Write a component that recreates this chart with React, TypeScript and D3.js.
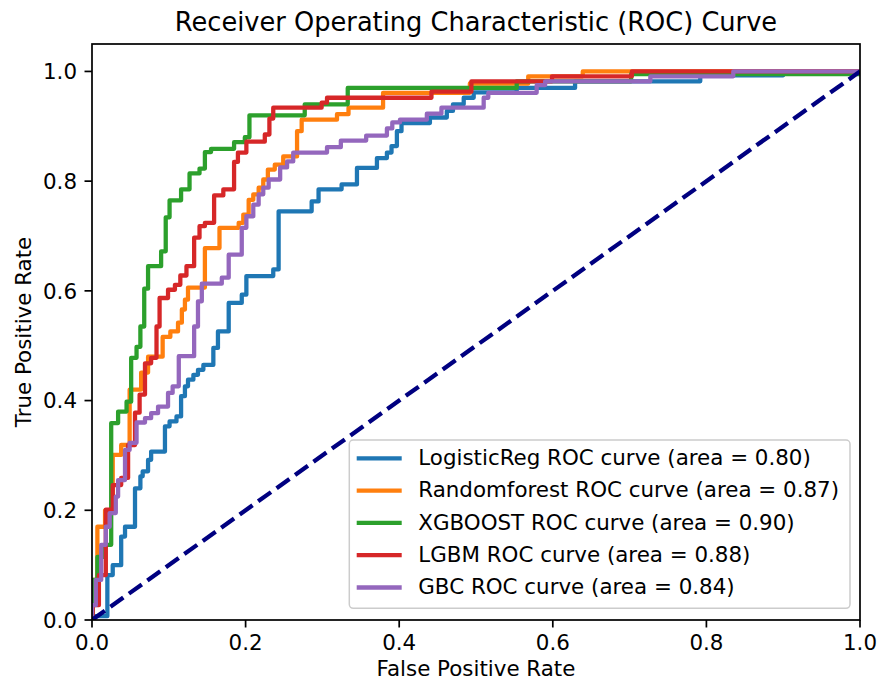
import React from "react";
import * as d3 from "d3";

// Figure geometry (pixels)
const WIDTH = 880;
const HEIGHT = 691;
const PLOT = { left: 92, right: 860, top: 44, bottom: 620 };
const PT = 2.14; // pixels per typographic point at this figure's resolution
const FONT = "DejaVu Sans, Liberation Sans, sans-serif";

const xTicks = [0, 0.2, 0.4, 0.6, 0.8, 1.0];
const yTicks = [0, 0.2, 0.4, 0.6, 0.8, 1.0];

const modelNames = ["LogisticReg", "Randomforest", "XGBOOST", "LGBM", "GBC"];
const modelAuc = [0.8, 0.87, 0.9, 0.88, 0.84];
const modelColors = ["#1f77b4", "#ff7f0e", "#2ca02c", "#d62728", "#9467bd"];

// ROC points [fpr, tpr]; each point is where a vertical rise ends and the next horizontal run begins
const rocLogisticReg: [number, number][] = [
  [0, 0], [0, 0.007], [0.02, 0.082], [0.027, 0.1], [0.038, 0.152], [0.043, 0.17],
  [0.056, 0.24], [0.063, 0.262], [0.066, 0.271], [0.073, 0.292], [0.077, 0.307],
  [0.095, 0.353], [0.101, 0.362], [0.11, 0.371], [0.116, 0.408], [0.121, 0.426],
  [0.125, 0.438], [0.132, 0.447], [0.138, 0.456], [0.145, 0.465], [0.158, 0.496],
  [0.164, 0.526], [0.178, 0.578], [0.195, 0.593], [0.201, 0.627], [0.236, 0.639],
  [0.243, 0.745], [0.286, 0.763], [0.295, 0.785], [0.325, 0.794], [0.345, 0.824],
  [0.371, 0.842], [0.384, 0.852], [0.39, 0.864], [0.397, 0.891], [0.403, 0.906],
  [0.44, 0.916], [0.462, 0.928], [0.47, 0.94], [0.484, 0.952], [0.497, 0.962],
  [0.553, 0.97], [0.629, 0.982], [0.792, 0.993], [0.9, 0.998], [1, 1],
];

const rocRandomforest: [number, number][] = [
  [0, 0], [0.001, 0.073], [0.007, 0.17], [0.017, 0.2], [0.027, 0.301], [0.038, 0.319],
  [0.049, 0.42], [0.064, 0.451], [0.073, 0.48], [0.092, 0.516], [0.102, 0.526],
  [0.112, 0.542], [0.117, 0.566], [0.121, 0.584], [0.125, 0.606], [0.147, 0.678],
  [0.166, 0.715], [0.191, 0.724], [0.197, 0.739], [0.204, 0.766], [0.21, 0.776],
  [0.217, 0.788], [0.223, 0.803], [0.229, 0.821], [0.238, 0.83], [0.249, 0.845],
  [0.267, 0.891], [0.273, 0.912], [0.319, 0.922], [0.334, 0.934], [0.379, 0.961],
  [0.492, 0.978], [0.568, 0.991], [0.639, 1], [1, 1],
];

const rocXgboost: [number, number][] = [
  [0, 0], [0.001, 0.073], [0.007, 0.115], [0.016, 0.137], [0.025, 0.359], [0.034, 0.38],
  [0.045, 0.398], [0.051, 0.478], [0.058, 0.498], [0.063, 0.535], [0.068, 0.604],
  [0.073, 0.645], [0.09, 0.672], [0.096, 0.734], [0.101, 0.765], [0.116, 0.785],
  [0.127, 0.814], [0.14, 0.823], [0.147, 0.853], [0.155, 0.859], [0.185, 0.871],
  [0.199, 0.88], [0.205, 0.92], [0.277, 0.94], [0.333, 0.97], [0.553, 0.982],
  [0.702, 0.995], [1, 1],
];

const rocLgbm: [number, number][] = [
  [0, 0], [0.001, 0.027], [0.009, 0.082], [0.018, 0.201], [0.027, 0.246], [0.038, 0.259],
  [0.047, 0.319], [0.056, 0.378], [0.062, 0.411], [0.069, 0.468], [0.077, 0.478],
  [0.084, 0.535], [0.088, 0.587], [0.099, 0.602], [0.108, 0.611], [0.115, 0.628],
  [0.123, 0.645], [0.133, 0.697], [0.14, 0.718], [0.147, 0.724], [0.159, 0.774],
  [0.171, 0.785], [0.185, 0.835], [0.19, 0.852], [0.201, 0.872], [0.225, 0.885],
  [0.231, 0.914], [0.236, 0.934], [0.299, 0.943], [0.306, 0.952], [0.442, 0.963],
  [0.494, 0.982], [0.599, 0.991], [0.703, 1], [1, 1],
];

const rocGbc: [number, number][] = [
  [0, 0], [0, 0.027], [0.005, 0.073], [0.012, 0.137], [0.018, 0.17], [0.023, 0.195],
  [0.031, 0.225], [0.034, 0.255], [0.043, 0.31], [0.049, 0.323], [0.058, 0.36],
  [0.069, 0.368], [0.077, 0.377], [0.086, 0.389], [0.099, 0.414], [0.105, 0.426],
  [0.113, 0.481], [0.133, 0.535], [0.138, 0.581], [0.143, 0.613], [0.169, 0.624],
  [0.178, 0.666], [0.195, 0.715], [0.201, 0.736], [0.21, 0.757], [0.217, 0.776],
  [0.223, 0.788], [0.23, 0.803], [0.245, 0.825], [0.254, 0.836], [0.262, 0.852],
  [0.306, 0.862], [0.324, 0.874], [0.357, 0.883], [0.384, 0.896], [0.391, 0.907],
  [0.401, 0.912], [0.436, 0.923], [0.455, 0.934], [0.51, 0.952], [0.516, 0.961],
  [0.579, 0.975], [0.59, 0.982], [0.727, 0.991], [0.835, 1], [1, 1],
];

const rocSeries = [rocLogisticReg, rocRandomforest, rocXgboost, rocLgbm, rocGbc];

// Chance diagonal
const chanceLine: [number, number][] = [[0, 0], [1, 1]];

export default function App() {
  const x = d3.scaleLinear().domain([0, 1]).range([PLOT.left, PLOT.right]);
  const y = d3.scaleLinear().domain([0, 1.05]).range([PLOT.bottom, PLOT.top]);

  const stepLine = d3
    .line<[number, number]>()
    .x((d) => x(d[0]))
    .y((d) => y(d[1]))
    .curve(d3.curveStepAfter);

  const straightLine = d3
    .line<[number, number]>()
    .x((d) => x(d[0]))
    .y((d) => y(d[1]));

  const lw = 2 * PT;
  const spineW = 0.8 * PT;
  const tickLen = 3.5 * PT;
  const tickPad = 3.5 * PT;
  const fs = 10 * PT;
  const titleFs = 12 * PT;

  // Legend layout
  const legend = { x: 349.3, y: 440, w: 500.7, h: 168.3 };
  const rowPitch = 32.3;
  const firstRowMid = 458.3;

  return (
    <svg
      width={WIDTH}
      height={HEIGHT}
      viewBox={`0 0 ${WIDTH} ${HEIGHT}`}
      style={{ position: "absolute", left: 0, top: 0, display: "block", background: "#fff" }}
      fontFamily={FONT}
    >
      <defs>
        <clipPath id="plot-clip">
          <rect x={PLOT.left} y={PLOT.top} width={PLOT.right - PLOT.left} height={PLOT.bottom - PLOT.top} />
        </clipPath>
      </defs>
      <rect x={0} y={0} width={WIDTH} height={HEIGHT} fill="#fff" />

      {/* Title */}
      <text x={(PLOT.left + PLOT.right) / 2} y={31} textAnchor="middle" fontSize={titleFs} fill="#000">
        Receiver Operating Characteristic (ROC) Curve
      </text>

      {/* ROC curves */}
      <g clipPath="url(#plot-clip)">
        {rocSeries.map((pts, i) => (
          <path
            key={modelNames[i]}
            d={stepLine(pts) || ""}
            fill="none"
            stroke={modelColors[i]}
            strokeWidth={lw}
            strokeLinejoin="round"
            strokeLinecap="square"
          />
        ))}
        <path
          d={straightLine(chanceLine) || ""}
          fill="none"
          stroke="#000080"
          strokeWidth={lw}
          strokeDasharray={`${3.7 * lw} ${1.6 * lw}`}
        />
      </g>

      {/* Spines */}
      <rect
        x={PLOT.left}
        y={PLOT.top}
        width={PLOT.right - PLOT.left}
        height={PLOT.bottom - PLOT.top}
        fill="none"
        stroke="#000"
        strokeWidth={spineW}
      />

      {/* X axis ticks */}
      {xTicks.map((t) => (
        <g key={`x${t}`}>
          <line x1={x(t)} x2={x(t)} y1={PLOT.bottom} y2={PLOT.bottom + tickLen} stroke="#000" strokeWidth={spineW} />
          <text x={x(t)} y={PLOT.bottom + tickLen + tickPad + 15.4} textAnchor="middle" fontSize={fs} fill="#000">
            {t.toFixed(1)}
          </text>
        </g>
      ))}

      {/* Y axis ticks */}
      {yTicks.map((t) => (
        <g key={`y${t}`}>
          <line x1={PLOT.left - tickLen} x2={PLOT.left} y1={y(t)} y2={y(t)} stroke="#000" strokeWidth={spineW} />
          <text x={PLOT.left - tickLen - tickPad} y={y(t) + 7.7} textAnchor="end" fontSize={fs} fill="#000">
            {t.toFixed(1)}
          </text>
        </g>
      ))}

      {/* Axis labels */}
      <text x={(PLOT.left + PLOT.right) / 2} y={676} textAnchor="middle" fontSize={fs} fill="#000">
        False Positive Rate
      </text>
      <text
        transform={`translate(31, ${(PLOT.top + PLOT.bottom) / 2}) rotate(-90)`}
        textAnchor="middle"
        fontSize={fs}
        fill="#000"
      >
        True Positive Rate
      </text>

      {/* Legend */}
      <g>
        <rect
          x={legend.x}
          y={legend.y}
          width={legend.w}
          height={legend.h}
          rx={4}
          ry={4}
          fill="#fff"
          fillOpacity={0.8}
          stroke="#cccccc"
          strokeWidth={1.5}
        />
        {modelNames.map((name, i) => {
          const cy = firstRowMid + i * rowPitch;
          return (
            <g key={`lg${name}`}>
              <line x1={356.7} x2={401.7} y1={cy} y2={cy} stroke={modelColors[i]} strokeWidth={lw} />
              <text x={418.3} y={cy + 6.8} fontSize={fs} fill="#000">
                {`${name} ROC curve (area = ${modelAuc[i].toFixed(2)})`}
              </text>
            </g>
          );
        })}
      </g>
    </svg>
  );
}
